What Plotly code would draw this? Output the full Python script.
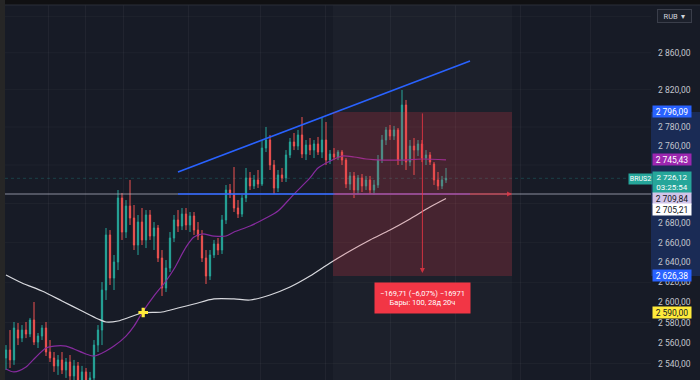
import math
import plotly.graph_objects as go

# ---------------- data (prices) ----------------
opens = [2545.4, 2553.2, 2543.5, 2572.7, 2564.8, 2572.7, 2568.8, 2582.6, 2560.9, 2566.8,
         2574.7, 2551.2, 2545.4, 2537.7, 2543.5, 2533.8, 2541.5, 2528.0, 2537.7, 2524.1,
         2531.9, 2518.3, 2526.1, 2558.0, 2572.7, 2612.3, 2667.8, 2624.3, 2640.4, 2705.7,
         2670.8, 2697.4, 2685.1, 2657.6, 2681.0, 2662.7, 2688.2, 2666.7, 2674.9, 2644.4,
         2614.3, 2634.3, 2664.7, 2683.1, 2676.9, 2689.2, 2678.0, 2687.2, 2672.8, 2666.7,
         2644.4, 2626.3, 2647.5, 2658.6, 2652.5, 2683.1, 2714.0, 2709.8, 2695.4, 2689.2,
         2705.7, 2726.5, 2718.2, 2724.4, 2720.2, 2757.8, 2766.3, 2740.0, 2716.1, 2729.6,
         2726.5, 2750.5, 2764.2, 2759.9, 2771.6, 2751.5, 2761.0, 2755.7, 2762.1, 2753.6,
         2766.3, 2745.2, 2751.5, 2748.4, 2753.6, 2745.2, 2720.2, 2728.6, 2714.0, 2726.5,
         2718.2, 2724.4, 2714.0, 2719.2, 2745.2, 2766.3, 2776.9, 2770.5, 2776.9, 2745.2,
         2803.5, 2743.1, 2759.9, 2755.7, 2762.1, 2747.3, 2750.5, 2741.0, 2724.4, 2718.2,
         2724.4]
highs = [2558.0, 2572.7, 2580.6, 2579.6, 2577.6, 2580.6, 2584.6, 2600.4, 2569.8, 2577.6,
         2580.6, 2562.9, 2551.2, 2548.3, 2551.2, 2545.4, 2548.3, 2543.5, 2541.5, 2537.7,
         2535.7, 2531.9, 2562.9, 2577.6, 2620.3, 2674.9, 2672.8, 2647.5, 2714.0, 2710.9,
         2703.6, 2724.4, 2698.5, 2688.2, 2695.4, 2693.3, 2693.3, 2681.0, 2678.0, 2652.5,
         2642.4, 2670.8, 2688.2, 2693.3, 2695.4, 2695.4, 2691.3, 2691.3, 2681.0, 2672.8,
         2652.5, 2652.5, 2662.7, 2664.7, 2688.2, 2719.2, 2720.2, 2737.9, 2703.6, 2708.8,
         2736.9, 2732.7, 2729.6, 2734.8, 2766.3, 2780.1, 2771.6, 2745.2, 2734.8, 2736.9,
         2755.7, 2768.4, 2773.7, 2776.9, 2790.7, 2766.3, 2768.4, 2766.3, 2769.5, 2789.6,
         2785.4, 2755.7, 2757.8, 2755.7, 2755.7, 2747.3, 2732.7, 2732.7, 2729.6, 2730.6,
         2728.6, 2728.6, 2724.4, 2750.5, 2771.6, 2780.1, 2782.2, 2781.2, 2779.0, 2819.6,
         2808.9, 2766.3, 2768.4, 2766.3, 2766.3, 2755.7, 2753.6, 2743.1, 2732.7, 2728.6,
         2736.9]
lows = [2533.8, 2535.7, 2538.7, 2558.0, 2560.9, 2564.8, 2565.8, 2558.0, 2555.1, 2562.9,
        2547.3, 2541.5, 2531.9, 2529.0, 2529.9, 2526.1, 2524.1, 2522.2, 2519.3, 2516.4,
        2512.6, 2509.7, 2516.4, 2551.2, 2558.0, 2602.4, 2617.3, 2612.3, 2632.3, 2662.7,
        2664.7, 2678.0, 2652.5, 2647.5, 2657.6, 2654.5, 2662.7, 2652.5, 2640.4, 2606.4,
        2610.3, 2630.3, 2660.6, 2670.8, 2672.8, 2672.8, 2670.8, 2667.8, 2662.7, 2640.4,
        2618.3, 2622.3, 2644.4, 2647.5, 2648.5, 2679.0, 2705.7, 2691.3, 2685.1, 2686.2,
        2701.5, 2714.0, 2715.0, 2716.1, 2718.2, 2753.6, 2734.8, 2709.8, 2711.9, 2722.3,
        2722.3, 2747.3, 2755.7, 2755.7, 2747.3, 2745.2, 2750.5, 2747.3, 2750.5, 2747.3,
        2740.0, 2741.0, 2745.2, 2745.2, 2740.0, 2716.1, 2714.0, 2705.7, 2709.8, 2711.9,
        2714.0, 2709.8, 2708.8, 2716.1, 2742.1, 2761.0, 2766.3, 2766.3, 2740.0, 2740.0,
        2734.8, 2738.9, 2729.6, 2749.4, 2743.1, 2740.0, 2740.0, 2719.2, 2714.0, 2715.0,
        2721.3]
closes = [2553.2, 2543.5, 2574.7, 2564.8, 2572.7, 2568.8, 2582.6, 2560.9, 2566.8, 2574.7,
          2551.2, 2545.4, 2537.7, 2543.5, 2533.8, 2541.5, 2528.0, 2537.7, 2524.1, 2531.9,
          2518.3, 2526.1, 2558.0, 2572.7, 2612.3, 2667.8, 2624.3, 2640.4, 2705.7, 2670.8,
          2697.4, 2685.1, 2657.6, 2681.0, 2662.7, 2688.2, 2666.7, 2674.9, 2644.4, 2614.3,
          2634.3, 2664.7, 2683.1, 2676.9, 2689.2, 2678.0, 2687.2, 2672.8, 2666.7, 2644.4,
          2626.3, 2647.5, 2658.6, 2652.5, 2683.1, 2714.0, 2709.8, 2695.4, 2689.2, 2705.7,
          2726.5, 2718.2, 2724.4, 2720.2, 2757.8, 2766.3, 2740.0, 2716.1, 2729.6, 2726.5,
          2750.5, 2764.2, 2759.9, 2771.6, 2751.5, 2761.0, 2755.7, 2762.1, 2753.6, 2766.3,
          2745.2, 2751.5, 2748.4, 2753.6, 2745.2, 2720.2, 2728.6, 2714.0, 2726.5, 2718.2,
          2724.4, 2714.0, 2719.2, 2745.2, 2766.3, 2776.9, 2770.5, 2776.9, 2745.2, 2803.5,
          2743.1, 2759.9, 2755.7, 2762.1, 2747.3, 2750.5, 2743.1, 2724.4, 2718.2, 2724.4,
          2726.12]
bars = list(range(len(closes)))

ma_fast_bars = [0, 2, 5, 7, 10, 12, 15, 17, 20, 22, 25, 27, 30, 32, 34, 37, 40, 42, 45, 47,
                49, 52, 55, 57, 61, 65, 68, 72, 76, 78, 81, 84, 87, 90, 94, 99, 104, 110]
ma_fast = [2534.7, 2531.9, 2536.7, 2544.4, 2555.1, 2557.0, 2557.0, 2554.1, 2549.3, 2547.3,
           2552.2, 2557.0, 2566.8, 2576.6, 2589.5, 2606.4, 2621.3, 2633.3, 2655.5, 2665.7,
           2668.8, 2666.7, 2666.7, 2670.8, 2676.9, 2685.1, 2692.3, 2709.8, 2726.5, 2736.9,
           2744.1, 2749.4, 2748.4, 2746.3, 2745.2, 2745.2, 2746.3, 2745.43]
ma_slow_bars = [0, 4, 9, 14, 19, 23, 25, 28, 31, 34, 39, 43, 47, 52, 57, 61, 66, 71, 76, 81,
                86, 91, 96, 101, 106, 110]
ma_slow = [2627.3, 2619.3, 2611.3, 2601.4, 2591.4, 2583.6, 2580.6, 2581.6, 2585.5, 2589.5,
           2590.5, 2594.4, 2598.4, 2603.4, 2603.4, 2602.4, 2607.4, 2615.3, 2626.3, 2639.4,
           2651.5, 2662.7, 2672.8, 2684.1, 2696.4, 2705.21]

cross_bar = [34.3]
cross_price = [2590.0]

y_ticks = [2860, 2820, 2780, 2760, 2680, 2660, 2640, 2620, 2600, 2580, 2560, 2540]
y_grid = [2900, 2860, 2820, 2780, 2740, 2700, 2660, 2620, 2580, 2540]
y_view = [2524.1, 2912.6]
x_view = [-0.25, 161.25]
grid_bars = [10.5, 19.75, 29.25, 45.5, 63.5, 79.75, 96, 112.25, 128.5, 146]

trend_bars = [43, 116]
trend_prices = [2732.7, 2850.9]
level_bars = [43, 116]
level_price = 2709.84
measure_bars = [81.75, 126.5]
measure_prices = [2626.38, 2796.09]   # bottom, top
measure_mid_bar = 104.1
measure_tip_price = 2629.3
tooltip_price = 2604.4
last_price = 2726.12
ma_fast_last = 2745.43
ma_slow_last = 2705.21
alert_price = 2590.00
symbol = "BRUS2"
countdown = "03:25:54"
bars_text = "Бары: 100, 28д 20ч"

# ---------------- styling ----------------
BG = "#171b26"
UP = "#26a69a"
DOWN = "#ef5350"
RED = "#f23645"
BLUE = "#2962ff"
FONT = "Roboto, 'Noto Sans', sans-serif"
L10 = math.log10

def fmt(v):
    return f"{v:,.2f}".replace(",", " ").replace(".", ",")

fig = go.Figure()

fig.add_trace(go.Scatter(x=ma_slow_bars, y=ma_slow, mode="lines",
                         line=dict(color="#d8d9de", width=1.2, shape="spline", smoothing=0.8),
                         hoverinfo="skip"))
fig.add_trace(go.Scatter(x=ma_fast_bars, y=ma_fast, mode="lines",
                         line=dict(color="#862b9e", width=1.2, shape="spline", smoothing=0.8),
                         hoverinfo="skip"))
fig.add_trace(go.Candlestick(x=bars, open=opens, high=highs, low=lows, close=closes,
                             increasing=dict(line=dict(color=UP, width=1), fillcolor=UP),
                             decreasing=dict(line=dict(color=DOWN, width=1), fillcolor=DOWN),
                             whiskerwidth=0, hoverinfo="skip"))
fig.add_trace(go.Scatter(x=cross_bar, y=cross_price, mode="markers",
                         marker=dict(symbol="cross", size=8, color="#ffeb3b",
                                     line=dict(width=0)),
                         hoverinfo="skip"))

W, H = 700, 380
ML, MR, MT, MB = 5, 49, 5, 0
PW = W - ML - MR
PH = H - MT - MB

def px_x(px):
    return (px - ML) / PW

def px_y(py):
    return 1 - (py - MT) / PH

shapes = []
# frame strips
shapes.append(dict(type="rect", xref="paper", yref="paper", x0=px_x(0), x1=px_x(W),
                   y0=px_y(MT), y1=px_y(0), fillcolor="#101012", line=dict(width=0), layer="below"))
shapes.append(dict(type="rect", xref="paper", yref="paper", x0=px_x(0), x1=px_x(ML),
                   y0=px_y(H), y1=px_y(0), fillcolor="#262626", line=dict(width=0), layer="below"))
# horizontal grid
for g in y_grid:
    shapes.append(dict(type="line", xref="paper", yref="y", x0=0, x1=1, y0=g, y1=g,
                       line=dict(color="rgba(255,255,255,0.035)", width=1), layer="below"))
# time-range highlight column
shapes.append(dict(type="rect", xref="x", yref="paper", x0=measure_bars[0], x1=measure_bars[1],
                   y0=0, y1=1, fillcolor="rgba(255,255,255,0.025)", line=dict(width=0), layer="below"))
# axis highlight
shapes.append(dict(type="rect", xref="paper", yref="y", x0=1.0, x1=px_x(W),
                   y0=measure_prices[0], y1=measure_prices[1],
                   fillcolor="rgba(41,98,255,0.22)", line=dict(width=0), layer="below"))
# last price line (faint)
shapes.append(dict(type="line", xref="paper", yref="y", x0=0, x1=1,
                   y0=last_price, y1=last_price,
                   line=dict(color="rgba(38,166,154,0.28)", width=1, dash="dot"), layer="below"))
# full-width horizontal level (grey)
shapes.append(dict(type="line", xref="paper", yref="y", x0=0, x1=1,
                   y0=level_price, y1=level_price,
                   line=dict(color="rgba(190,192,210,0.7)", width=1), layer="above"))
# blue drawings
shapes.append(dict(type="line", xref="x", yref="y", x0=trend_bars[0], x1=trend_bars[1],
                   y0=trend_prices[0], y1=trend_prices[1],
                   line=dict(color=BLUE, width=1.6), layer="above"))
shapes.append(dict(type="line", xref="x", yref="y", x0=level_bars[0], x1=level_bars[1],
                   y0=level_price, y1=level_price,
                   line=dict(color=BLUE, width=1.6), layer="above"))
# measurement box
shapes.append(dict(type="rect", xref="x", yref="y", x0=measure_bars[0], x1=measure_bars[1],
                   y0=measure_prices[0], y1=measure_prices[1],
                   fillcolor="rgba(242,54,69,0.2)", line=dict(width=0), layer="above"))
# top border line
shapes.append(dict(type="line", xref="paper", yref="paper", x0=0, x1=px_x(W), y0=1, y1=1,
                   line=dict(color="#2a2e39", width=1), layer="above"))

annotations = []
# measurement arrows
annotations.append(dict(x=measure_mid_bar, y=L10(measure_tip_price), xref="x", yref="y",
                        ax=measure_mid_bar, ay=L10(measure_prices[1]), axref="x", ayref="y",
                        showarrow=True, arrowhead=2, arrowsize=1, arrowwidth=1,
                        arrowcolor="rgba(242,54,69,0.8)", text=""))
annotations.append(dict(x=measure_bars[1], y=L10(level_price), xref="x", yref="y",
                        ax=measure_bars[0], ay=L10(level_price), axref="x", ayref="y",
                        showarrow=True, arrowhead=2, arrowsize=1, arrowwidth=1,
                        arrowcolor="rgba(242,54,69,0.75)", text=""))
# tooltip
diff = measure_prices[0] - measure_prices[1]
pct = diff / measure_prices[1] * 100
ticks = round(diff * 100)
line1 = f"−{fmt(abs(diff))} (−{abs(pct):.2f}%) −{abs(ticks)}".replace(".", ",")
annotations.append(dict(x=measure_mid_bar, y=L10(tooltip_price), xref="x", yref="y",
                        text=f"{line1}<br>{bars_text}", showarrow=False,
                        font=dict(family=FONT, size=7.5, color="#ffffff"),
                        bgcolor=RED, width=95, height=30, borderpad=0, align="center"))

def badge(price, text, bg, fg, yshift=0, height=11, size=8.5):
    annotations.append(dict(x=px_x(672), y=L10(price), xref="paper", yref="y",
                            text=text, showarrow=False, xanchor="center", yanchor="middle",
                            font=dict(family=FONT, size=size, color=fg),
                            bgcolor=bg, width=38, height=height, borderpad=0,
                            yshift=yshift, align="center"))

badge(measure_prices[1], fmt(measure_prices[1]), BLUE, "#ffffff")
badge(ma_fast_last, fmt(ma_fast_last), "#9c27b0", "#ffffff")
badge(last_price, f"{fmt(last_price)}<br>{countdown}", UP, "#ffffff", yshift=-4, height=21, size=8)
badge(level_price, fmt(level_price), "#d1c4e9", "#131722", yshift=-4)
badge(ma_slow_last, fmt(ma_slow_last), "#ffffff", "#131722", yshift=-11)
badge(measure_prices[0], fmt(measure_prices[0]), BLUE, "#ffffff")
badge(alert_price, fmt(alert_price), "#ffeb3b", "#131722")

annotations.append(dict(x=px_x(640.5), y=L10(last_price), xref="paper", yref="y",
                        text=symbol, showarrow=False, xanchor="center", yanchor="middle",
                        font=dict(family=FONT, size=7, color="#ffffff"),
                        bgcolor=UP, width=23, height=10, borderpad=0, yshift=-1))
annotations.append(dict(x=px_x(674), y=px_y(16), xref="paper", yref="paper",
                        text="RUB  ▾", showarrow=False, xanchor="center", yanchor="middle",
                        font=dict(family=FONT, size=7.5, color="#d1d4dc"),
                        bgcolor="#1c202b", bordercolor="#3a3e4a", borderwidth=1,
                        width=33, height=12, borderpad=0))

fig.update_layout(
    width=W, height=H, margin=dict(l=ML, r=MR, t=MT, b=MB, autoexpand=False),
    paper_bgcolor=BG, plot_bgcolor=BG, showlegend=False,
    separators=", ", boxgap=0.55,
    font=dict(family=FONT, size=8.5, color="#b2b5be"),
    shapes=shapes, annotations=annotations,
    xaxis=dict(range=x_view, showticklabels=False, showgrid=True, tickvals=grid_bars,
               gridcolor="rgba(255,255,255,0.045)", zeroline=False, showline=False, ticks="",
               rangeslider=dict(visible=False), fixedrange=True, automargin=False),
    yaxis=dict(type="log", side="right", range=[L10(y_view[0]), L10(y_view[1])],
               tickvals=y_ticks, tickformat=",.2f", showgrid=False,
               zeroline=False, showline=False, ticks="", automargin=False,
               ticklabelstandoff=6, tickfont=dict(family=FONT, size=8.5, color="#c3c6ce"),
               fixedrange=True),
)

fig.write_html("out.html", config={"displayModeBar": False},
               post_script="document.body.style.margin='0px';document.body.style.overflow='hidden';")
